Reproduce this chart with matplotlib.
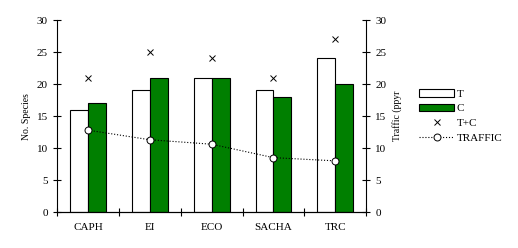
import numpy as np
import matplotlib.pyplot as plt
from matplotlib.patches import Patch
from matplotlib.lines import Line2D

plt.rcParams['font.family'] = ['Liberation Serif', 'DejaVu Serif']

sites = ['CAPH', 'EI', 'ECO', 'SACHA', 'TRC']
t_vals = [16, 19, 21, 19, 24]
c_vals = [17, 21, 21, 18, 20]
tc_vals = [21, 25, 24, 21, 27]
traffic = [12.8, 11.3, 10.6, 8.5, 8.0]

fig = plt.figure(figsize=(5.18, 2.48), dpi=100)
ax = fig.add_axes([0.110, 0.145, 0.597, 0.774])

x = np.arange(len(sites))
w = 0.29
ax.bar(x - w / 2, t_vals, w, color='white', edgecolor='black', linewidth=0.8, zorder=2)
ax.bar(x + w / 2, c_vals, w, color='#007f00', edgecolor='black', linewidth=0.8, zorder=2)
ax.plot(x, tc_vals, 'x', color='black', markersize=5, markeredgewidth=0.7, zorder=3)

ax.set_xlim(-0.5, len(sites) - 0.5)
ax.set_ylim(0, 30)
ax.set_yticks(range(0, 31, 5))
ax.set_xticks(np.arange(-0.5, len(sites), 1))
ax.set_xticklabels([])
ax.set_xticks(x, minor=True)
ax.set_xticklabels(sites, minor=True, fontsize=8)
ax.tick_params(axis='x', which='minor', length=0, pad=8)
ax.tick_params(axis='x', which='major', direction='inout', length=6, width=0.8)
ax.tick_params(axis='y', direction='inout', length=6, width=0.8, labelsize=8)
ax.spines['top'].set_visible(False)
ax.spines['right'].set_visible(False)
ax.set_ylabel('No. Species', fontsize=7, labelpad=4)

ax2 = ax.twinx()
ax2.plot(x, traffic, ':', color='black', linewidth=0.8, marker='o', markersize=5,
         markerfacecolor='white', markeredgecolor='black', markeredgewidth=0.7, zorder=4)
ax2.set_ylim(0, 30)
ax2.set_yticks(range(0, 31, 5))
ax2.tick_params(axis='y', direction='inout', length=6, width=0.8, labelsize=8)
ax2.spines['top'].set_visible(False)
ax2.spines['left'].set_visible(False)
ax2.set_ylabel('Traffic (ppyr', fontsize=7, labelpad=4)

handles = [
    Patch(facecolor='white', edgecolor='black', linewidth=0.8),
    Patch(facecolor='#007f00', edgecolor='black', linewidth=0.8),
    Line2D([], [], linestyle='none', marker='x', color='black', markersize=5, markeredgewidth=0.7),
    Line2D([], [], linestyle=':', color='black', linewidth=0.8, marker='o', markersize=5,
           markerfacecolor='white', markeredgecolor='black', markeredgewidth=0.7),
]
fig.legend(handles, ['T', 'C', 'T+C', 'TRAFFIC'], loc='upper left',
           bbox_to_anchor=(0.80, 0.66), frameon=False, fontsize=8,
           handlelength=3.2, handletextpad=0.2, labelspacing=0.45, borderaxespad=0)

fig.savefig('out.png', dpi=100)
